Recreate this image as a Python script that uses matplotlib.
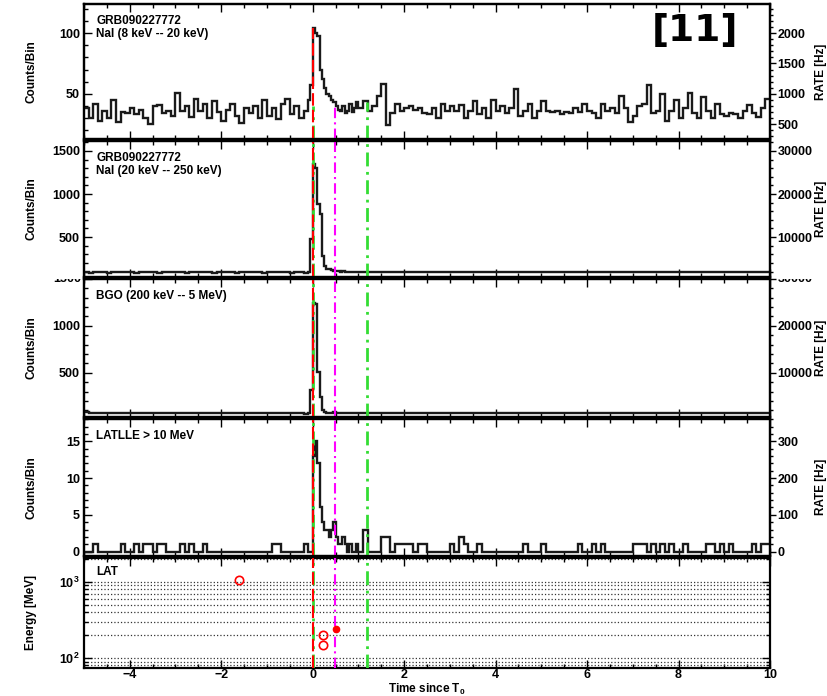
import numpy as np
import matplotlib
matplotlib.use('Agg')
import matplotlib.pyplot as plt
from matplotlib.ticker import MultipleLocator, FixedLocator
from matplotlib.transforms import Bbox, TransformedBbox

plt.rcParams['font.family'] = ['Liberation Sans', 'DejaVu Sans']
plt.rcParams['font.weight'] = 'bold'
plt.rcParams['axes.labelweight'] = 'bold'
plt.rcParams['mathtext.fontset'] = 'custom'
plt.rcParams['mathtext.rm'] = 'Liberation Sans:bold'
plt.rcParams['mathtext.bf'] = 'Liberation Sans:bold'
plt.rcParams['mathtext.default'] = 'bf'

# bins: 0.1 s away from the burst, 0.05 s from -0.1 s to 1.0 s
edges = np.concatenate([np.arange(-50, -1) / 10, np.arange(-2, 20) / 20, np.arange(10, 101) / 10])

# NaI 8-20 keV counts/bin
nai1_pre = [38, 30, 42, 28, 36, 30, 45, 27, 35, 34,
            38, 33, 37, 30, 25, 40, 41, 34, 36, 32,
            51, 36, 40, 31, 46, 36, 42, 30, 44, 35,
            28, 37, 42, 32, 26, 38, 34, 40, 30, 45,
            32, 38, 29, 42, 46, 33, 40, 30, 36]
nai1_burst = [45, 57, 104, 100, 98, 70, 62, 55, 50, 48, 45,
              43, 40, 37, 36, 40, 34, 36, 42, 35, 38, 43]
nai1_post = [38, 44, 36, 40, 48, 58, 24, 34, 42, 36,
             38, 40, 37, 38, 34, 33, 38, 30, 42, 36,
             40, 36, 41, 30, 36, 44, 33, 38, 30, 45,
             36, 40, 34, 38, 54, 32, 36, 42, 30, 36,
             44, 36, 35, 36, 33, 35, 34, 38, 35, 42,
             36, 34, 30, 42, 36, 38, 34, 48, 38, 27,
             32, 40, 42, 57, 34, 36, 50, 28, 36, 45,
             30, 38, 51, 34, 30, 47, 36, 30, 42, 33,
             32, 34, 33, 30, 36, 41, 34, 31, 38, 46]

# NaI 20-250 keV counts/bin
nai2_pre = [92, 88, 95, 90, 94, 89, 93, 96, 90, 91,
            94, 88, 92, 95, 90, 93, 89, 97, 92, 90,
            95, 91, 88, 94, 92, 96, 90, 93, 89, 94,
            91, 95, 92, 88, 93, 96, 90, 92, 94, 89,
            93, 91, 95, 90, 92, 88, 94, 91, 89]
nai2_burst = [92, 480, 1350, 1300, 880, 770, 280, 160, 135, 125, 118,
              112, 108, 104, 100, 102, 98, 100, 97, 99, 96, 98]
nai2_post = [98, 96, 100, 95, 97, 94, 99, 96, 93, 97,
             95, 98, 94, 96, 92, 97, 95, 99, 94, 96,
             93, 97, 95, 92, 96, 98, 94, 95, 97, 93,
             96, 94, 98, 95, 92, 96, 94, 97, 93, 95,
             94, 97, 92, 96, 95, 98, 93, 95, 97, 94,
             96, 93, 95, 98, 94, 92, 96, 95, 93, 97,
             95, 94, 98, 92, 96, 94, 97, 95, 93, 96,
             94, 97, 95, 92, 96, 93, 98, 94, 95, 92,
             96, 94, 93, 97, 95, 92, 96, 94, 95, 93]

# BGO 200 keV - 5 MeV counts/bin
bgo_pre = [82, 72, 70, 74, 68, 73, 71, 69, 75, 70,
           72, 68, 74, 71, 70, 73, 69, 72, 74, 70,
           71, 73, 68, 72, 75, 70, 71, 69, 73, 72,
           70, 74, 71, 68, 72, 73, 70, 69, 74, 71,
           72, 70, 73, 75, 71, 70, 72, 68, 66]
bgo_burst = [68, 320, 1240, 1230, 510, 240, 105, 85, 76, 72, 74,
             78, 76, 72, 70, 74, 71, 73, 70, 72, 74, 71]
bgo_post = [72, 70, 74, 71, 73, 69, 72, 75, 70, 71,
            73, 70, 72, 74, 69, 71, 73, 70, 72, 71,
            74, 70, 72, 69, 73, 71, 70, 74, 72, 70,
            71, 73, 69, 72, 74, 70, 71, 73, 70, 72,
            69, 72, 74, 71, 70, 73, 71, 72, 70, 74,
            72, 70, 71, 73, 69, 72, 74, 70, 72, 71,
            73, 70, 72, 69, 71, 74, 70, 72, 73, 71,
            70, 72, 74, 71, 69, 73, 70, 72, 71, 74,
            72, 70, 73, 71, 72, 69, 73, 71, 72, 70]

# LAT LLE: start time of every non-empty bin and its counts
lle_t = [-4.8, -4.2, -3.9, -3.7, -3.6, -3.4, -3.3, -2.9, -2.7, -2.4, -0.9, -0.8, -0.2,
         0.0, 0.05, 0.1, 0.15, 0.2, 0.25, 0.3, 0.35, 0.4, 0.45, 0.5, 0.55, 0.6, 0.65, 0.7, 0.8, 0.95,
         1.1, 1.5, 1.6, 1.8, 1.9, 2.0, 2.1, 2.3, 2.4, 3.0, 3.2, 3.3, 3.6, 4.6, 5.0, 5.8,
         6.1, 6.3, 7.0, 7.1, 7.2, 7.4, 7.6, 7.8, 8.1, 8.6, 8.7, 8.9, 9.1, 9.6, 9.8, 9.9]
lle_c = [1, 1, 1, 1, 1, 1, 1, 1, 1, 1, 1, 1, 1,
         13, 15, 12, 6, 4, 3, 3, 2, 3, 4, 2, 1, 1, 2, 1, 1, 1,
         3, 2, 2, 1, 1, 1, 1, 1, 1, 1, 2, 1, 1, 1, 1, 1,
         1, 1, 1, 1, 1, 1, 1, 1, 1, 1, 1, 1, 1, 1, 1, 1]

# LAT photons
lat_t = [-1.6, 0.22, 0.22]
lat_e = [1060, 200, 150]
lat_t_filled = [0.51]
lat_e_filled = [242]

# time markers
mark_x = [0.0, 0.0, 0.49, 1.19]
mark_colors = ['#33dd33', '#ff0000', '#ff00ff', '#33dd33']
mark_dashes = [(5, 2, 1, 2), (6, 2), (5, 2, 1, 2), (5, 2, 1, 2)]
mark_top_p1 = [40, 104, 42, 43]  # in the top panel the markers stop at the curve

rate_factor = 20  # counts/bin -> Hz

lle = np.zeros(len(edges) - 1)
lle[np.searchsorted(edges, np.array(lle_t) + 1e-6) - 1] = lle_c
series = [np.array(nai1_pre + nai1_burst + nai1_post),
          np.array(nai2_pre + nai2_burst + nai2_post),
          np.array(bgo_pre + bgo_burst + bgo_post),
          lle]
labels = ['GRB090227772\nNaI (8 keV -- 20 keV)', 'GRB090227772\nNaI (20 keV -- 250 keV)',
          'BGO (200 keV -- 5 MeV)', 'LATLLE > 10 MeV', 'LAT']
ylims = [(12.5, 124), (35, 1616), (28, 1500), (-0.6, 18.07)]
yticks = [[50, 100], [500, 1000, 1500], [500, 1000, 1500], [0, 5, 10, 15]]
yminor = [10, 100, 100, 1]
rticks = [[500, 1000, 1500, 2000], [10000, 20000, 30000], [10000, 20000, 30000], [0, 100, 200, 300]]
rminor = [100, 2000, 2000, 20]

fig, axes = plt.subplots(5, 1, sharex=True, figsize=(8.28, 6.96), dpi=100,
                         gridspec_kw=dict(height_ratios=[136, 137, 139, 138, 111], hspace=0.012,
                                          left=84 / 828, right=770 / 828,
                                          top=1 - 4 / 696, bottom=1 - 668 / 696))


def style_left(ax):
    for s in ax.spines.values():
        s.set_linewidth(1.6)
    ax.tick_params(axis='x', which='both', direction='in', top=True, bottom=True, width=1, labelsize=9, pad=1)
    ax.tick_params(axis='x', which='major', length=6)
    ax.tick_params(axis='x', which='minor', length=3)
    ax.tick_params(axis='y', which='both', direction='in', left=True, width=1, labelsize=9, pad=3)
    ax.tick_params(axis='y', which='major', length=6)
    ax.tick_params(axis='y', which='minor', length=3)
    ax.xaxis.set_major_locator(MultipleLocator(2))
    ax.xaxis.set_minor_locator(MultipleLocator(0.5))


for i in range(4):
    ax = axes[i]
    tw = ax.twinx()
    ax.stairs(series[i], edges, baseline=None, color='#1a1a1a', lw=1.7, zorder=3)
    ax.set_ylim(*ylims[i])
    if i == 0:
        for x, top, c, d in zip(mark_x, mark_top_p1, mark_colors, mark_dashes):
            ax.plot([x, x], [ylims[i][0], top], color=c, lw=2 if c == '#33dd33' else 1.5,
                    dashes=d, zorder=4)
    else:
        for x, c, d in zip(mark_x, mark_colors, mark_dashes):
            ax.axvline(x, color=c, lw=2 if c == '#33dd33' else 1.5, dashes=d, zorder=4)
    ax.yaxis.set_major_locator(FixedLocator(yticks[i]))
    ax.yaxis.set_minor_locator(MultipleLocator(yminor[i]))
    ax.set_ylabel('Counts/Bin', fontsize=8.5)
    ax.yaxis.set_label_coords(-0.068, 0.5)
    style_left(ax)
    ax.annotate(labels[i], xy=(0, 1), xycoords='axes fraction', xytext=(9, -8),
                textcoords='offset points', ha='left', va='top', fontsize=8.5, linespacing=1.15)

    tw.set_ylim(ylims[i][0] * rate_factor, ylims[i][1] * rate_factor)
    tw.yaxis.set_major_locator(FixedLocator(rticks[i]))
    tw.yaxis.set_minor_locator(MultipleLocator(rminor[i]))
    tw.tick_params(axis='y', which='both', direction='out', width=1, labelsize=9, pad=1.5)
    tw.tick_params(axis='y', which='major', length=4)
    tw.tick_params(axis='y', which='minor', length=2)
    for s in tw.spines.values():
        s.set_linewidth(1.6)
    tw.set_ylabel('RATE [Hz]', fontsize=8.5)
    tw.yaxis.set_label_coords(1.066, 0.5)

    if i == 2:
        # top labels of the BGO panel are half hidden behind the panel above
        ax.set_yticklabels(['500', '1000', ''])
        tw.set_yticklabels(['10000', '20000', ''])
        clip = TransformedBbox(Bbox([[0, 0], [1, ax.get_position().y1]]), fig.transFigure)
        t1 = ax.text(-0.0045, 1500, '1500', transform=ax.get_yaxis_transform(), ha='right',
                     va='center', fontsize=9)
        t2 = tw.text(1.011, 30000, '30000', transform=tw.get_yaxis_transform(), ha='left',
                     va='center', fontsize=9)
        for t in (t1, t2):
            t.set_clip_box(clip)
            t.set_clip_on(True)

# LAT panel
ax = axes[4]
ax.set_yscale('log')
ax.set_ylim(74, 2090)
ax.grid(which='both', axis='y', linestyle=':', color='#333333', lw=0.9)
for x, c, d in zip(mark_x, mark_colors, mark_dashes):
    ax.axvline(x, color=c, lw=2 if c == '#33dd33' else 1.5, dashes=d, zorder=4)
ax.plot(lat_t, lat_e, 'o', mfc='none', mec='red', ms=6, mew=1.2, zorder=5)
ax.plot(lat_t_filled, lat_e_filled, 'o', color='red', ms=4.5, zorder=5)
style_left(ax)
ax.tick_params(axis='y', which='both', right=True)
ax.set_ylabel('Energy [MeV]', fontsize=8.5)
ax.yaxis.set_label_coords(-0.068, 0.5)
ax.annotate(labels[4], xy=(0, 1), xycoords='axes fraction', xytext=(9, -6),
            textcoords='offset points', ha='left', va='top', fontsize=8.5)
ax.set_xlim(-5, 10)
ax.set_xlabel('Time since T$_0$', fontsize=8.5, labelpad=0.5)

fig.text(0.8394, 0.955, '[11]', fontsize=27, fontweight='bold', family='DejaVu Sans',
         ha='center', va='center')

fig.savefig('out.png', dpi=100)
